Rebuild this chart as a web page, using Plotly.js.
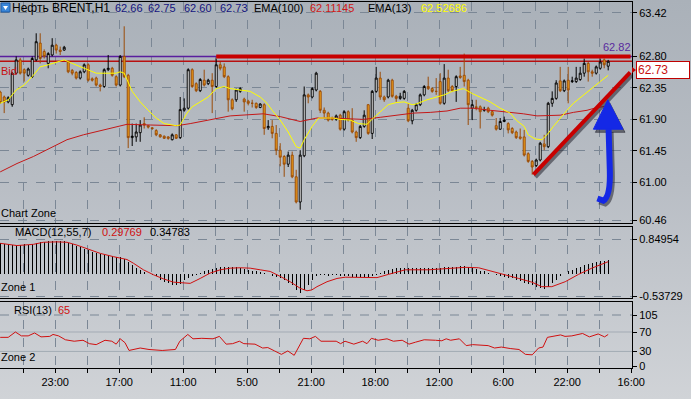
<!DOCTYPE html>
<html><head><meta charset="utf-8">
<script src="https://cdn.plot.ly/plotly-3.0.1.min.js"></script>
<style>
html,body{margin:0;padding:0;background:#c4c8cd;}
#chart{width:691px;height:399px;background:linear-gradient(to bottom,#aab1b9 0%,#b8bdc4 45%,#d0d3d7 100%);}
</style></head><body><div id="chart"></div>
<script>
// ---------- DATA ----------
const timeLabels = ['23:00','17:00','11:00','5:00','21:00','18:00','12:00','6:00','22:00','16:00'];
const priceTicks = [63.42, 62.80, 62.35, 61.90, 61.45, 61.00, 60.46];
const macdTicks = [0.84954, -0.53729];
const rsiTicks = [0, 30, 70, 105];

const open = [
62.29,62.22,62.15,62.11,62.56,62.75,62.61,62.53,62.51,62.75,
62.99,62.87,62.70,62.82,62.96,62.89,62.89,62.72,62.60,62.57,
62.49,62.58,62.68,62.48,62.49,62.39,62.37,62.61,62.63,62.51,
62.39,62.80,62.53,61.64,61.65,61.71,61.84,61.81,61.78,61.74,
61.68,61.66,61.65,61.61,61.68,61.64,62.03,62.06,62.61,62.41,
62.31,62.46,62.41,62.46,62.37,62.68,62.65,62.51,62.18,62.18,
62.30,62.19,62.16,62.13,62.13,62.07,62.11,61.78,61.80,61.70,
61.46,61.37,61.26,61.39,61.08,60.72,61.38,62.25,62.22,62.32,
62.30,62.03,61.99,61.92,61.90,61.96,61.76,62.01,61.89,61.72,
61.64,61.80,62.11,61.70,62.30,62.49,62.22,62.22,62.46,62.23,
62.20,62.20,62.06,61.88,62.03,62.11,62.25,62.37,62.34,62.30,
62.44,62.13,62.49,62.37,62.37,62.52,62.53,62.46,62.06,62.08,
62.08,62.03,62.06,62.01,61.81,61.76,61.87,61.84,61.77,61.72,
61.65,61.65,61.41,61.30,61.24,61.32,61.55,61.51,62.13,62.20,
62.45,62.31,62.46,62.44,62.44,62.47,62.56,62.70,62.58,62.56,
62.63,62.75,62.66];
const high = [
62.31,62.24,62.23,62.58,62.80,62.78,62.63,62.64,62.80,63.13,
63.13,62.90,62.86,63.06,62.98,62.94,62.95,62.74,62.62,62.59,
62.60,62.70,62.70,62.50,62.51,62.41,62.63,62.82,62.65,62.53,
62.82,63.23,62.55,61.84,61.84,61.89,61.93,61.82,61.79,61.76,
61.69,61.67,61.66,61.70,61.69,62.22,62.20,62.63,62.63,62.43,
62.49,62.61,62.48,62.56,62.77,62.72,62.70,62.53,62.20,62.34,
62.36,62.21,62.18,62.18,62.14,62.13,62.13,61.89,61.89,61.82,
61.56,61.39,61.44,61.44,61.18,61.46,62.37,62.27,62.36,62.58,
62.32,62.07,62.01,61.94,61.97,61.98,62.03,62.03,62.06,61.74,
61.82,62.03,62.12,62.32,62.65,62.58,62.24,62.48,62.48,62.25,
62.28,62.32,62.13,62.05,62.13,62.27,62.39,62.51,62.36,62.49,
62.56,62.69,62.61,62.39,62.53,62.65,62.84,62.48,62.18,62.18,
62.10,62.08,62.08,62.03,61.92,61.92,61.94,61.86,61.79,61.74,
61.77,61.75,61.43,61.32,61.34,61.58,61.68,62.15,62.30,62.46,
62.65,62.47,62.65,62.51,62.65,62.65,62.77,62.72,62.61,62.67,
62.77,62.77,62.75];
const low = [
62.12,61.99,62.13,62.08,62.54,62.54,62.44,62.51,62.49,62.73,
62.70,62.77,62.63,62.80,62.84,62.82,62.88,62.56,62.53,62.47,
62.47,62.56,62.44,62.44,62.37,62.30,62.35,62.59,62.51,62.37,
62.37,62.49,61.49,61.52,61.58,61.58,61.77,61.77,61.75,61.66,
61.64,61.62,61.61,61.60,61.62,61.62,62.01,62.04,62.35,62.29,
62.29,62.37,62.39,61.99,62.35,62.60,62.49,62.01,62.03,62.15,
62.28,62.01,62.10,62.07,62.05,62.06,61.68,61.75,61.63,61.39,
61.23,61.08,61.22,61.06,60.70,60.61,61.36,62.13,62.20,62.30,
61.99,61.92,61.87,61.88,61.88,61.74,61.74,61.87,61.70,61.58,
61.62,61.78,61.68,61.62,62.28,62.18,62.15,62.20,62.21,62.15,
62.18,62.18,61.86,61.83,62.01,62.09,62.23,62.32,62.28,62.25,
62.11,62.11,62.29,62.30,62.15,62.48,62.37,61.82,61.89,62.03,
61.77,62.01,61.99,61.94,61.74,61.75,61.86,61.70,61.69,61.62,
61.61,61.37,61.28,61.11,61.22,61.30,61.46,61.49,62.08,62.18,
62.29,62.29,62.13,62.42,62.42,62.45,62.51,62.44,62.51,62.54,
62.61,62.63,62.60];
const close = [
62.14,62.15,62.21,62.56,62.75,62.56,62.56,62.62,62.77,63.01,
62.77,62.80,62.84,62.96,62.89,62.87,62.93,62.58,62.56,62.49,
62.58,62.68,62.46,62.46,62.39,62.37,62.61,62.63,62.53,62.39,
62.80,62.51,61.64,61.66,61.72,61.82,61.82,61.79,61.77,61.68,
61.65,61.63,61.63,61.68,61.63,62.04,62.06,62.61,62.37,62.31,
62.47,62.39,62.46,62.37,62.68,62.63,62.51,62.18,62.05,62.32,
62.34,62.15,62.13,62.13,62.07,62.12,61.77,61.80,61.70,61.46,
61.36,61.26,61.39,61.08,60.72,61.39,62.25,62.22,62.34,62.56,
62.03,61.99,61.89,61.90,61.95,61.76,62.01,61.89,61.72,61.64,
61.80,61.96,61.70,62.30,62.49,62.22,62.18,62.46,62.23,62.20,
62.23,62.30,61.88,62.03,62.11,62.25,62.37,62.34,62.30,62.30,
62.13,62.49,62.31,62.31,62.51,62.50,62.44,62.11,62.11,62.07,
62.01,62.04,62.01,61.96,61.76,61.87,61.89,61.75,61.71,61.64,
61.63,61.39,61.30,61.22,61.32,61.56,61.51,62.13,62.20,62.42,
62.31,62.45,62.32,62.45,62.49,62.56,62.70,62.58,62.56,62.65,
62.72,62.68,62.73];

const ema13X = [0,2,4,6,8,10,12,14,16,18,20,22,24,27,29,30,31,33,35,37,39,41,44,45,46.7,48,50,52,54,56,57.5,60,62.5,65,66.7,68,70,72,74,75,76,78,79.6,81.3,83.3,85,87.5,89.6,91.7,93.3,95,97,99,101,103,104,106.7,109,111,113,115.8,118,120.4,122.5,125,127.5,129,131,132,133.75,135.4,136.7,138.3,140,141.7,143.3,145.8,148.3,150,152];
const ema13Y = [62.13,62.18,62.32,62.39,62.51,62.65,62.68,62.71,62.75,62.70,62.65,62.61,62.56,62.56,62.56,62.58,62.56,62.30,62.15,62.03,61.92,61.84,61.81,61.82,61.99,62.08,62.15,62.22,62.34,62.37,62.34,62.32,62.30,62.22,62.13,62.03,61.89,61.72,61.51,61.49,61.61,61.80,61.92,61.92,61.92,61.90,61.89,61.84,61.83,61.92,62.01,62.11,62.14,62.15,62.11,62.12,62.18,62.22,62.25,62.30,62.34,62.27,62.20,62.15,62.06,61.99,61.89,61.80,61.68,61.62,61.61,61.68,61.80,61.92,62.03,62.13,62.25,62.37,62.44,62.53];
const ema100X = [0,4.2,8.3,12.5,16.7,20.8,25,29.2,31.7,37.5,41.7,44.2,47.5,51.7,57.5,65.8,70,75,79.2,82.5,90.8,95,99.2,103.3,107.5,111.7,115,118.3,122.5,126.7,130.8,134.2,137.5,140,143.3,146.7,149.2,152];
const ema100Y = [61.15,61.27,61.37,61.49,61.61,61.68,61.74,61.80,61.83,61.82,61.81,61.81,61.84,61.89,61.95,61.98,61.94,61.87,61.92,61.92,61.90,61.93,61.96,61.99,62.00,62.02,62.06,62.06,62.03,62.01,61.98,61.95,61.95,61.96,62.00,62.03,62.07,62.09];

const macdHist = [
0.745,0.73,0.72,0.70,0.71,0.70,0.72,0.71,0.73,0.75,
0.77,0.78,0.79,0.80,0.79,0.79,0.79,0.76,0.72,0.69,
0.65,0.61,0.57,0.54,0.51,0.48,0.46,0.45,0.44,0.42,
0.40,0.36,0.29,0.22,0.14,0.09,0.04,0.01,-0.02,-0.06,
-0.15,-0.19,-0.23,-0.26,-0.27,-0.24,-0.15,-0.09,-0.06,-0.03,
0.02,0.06,0.10,0.13,0.15,0.18,0.18,0.18,0.18,0.17,
0.14,0.12,0.10,0.08,0.06,0.04,0.02,-0.01,-0.04,-0.08,
-0.10,-0.15,-0.23,-0.28,-0.38,-0.46,-0.40,-0.28,-0.15,-0.06,
-0.02,-0.03,-0.04,-0.03,-0.03,-0.04,-0.05,-0.06,-0.07,-0.07,
-0.08,-0.07,-0.07,-0.05,-0.02,0.02,0.06,0.10,0.12,0.14,
0.14,0.15,0.14,0.14,0.14,0.14,0.15,0.14,0.14,0.15,
0.15,0.16,0.17,0.17,0.18,0.20,0.20,0.18,0.14,0.12,
0.08,0.06,0.03,0.01,-0.02,-0.05,-0.07,-0.09,-0.10,-0.15,
-0.17,-0.21,-0.25,-0.28,-0.31,-0.35,-0.36,-0.33,-0.23,-0.15,
-0.06,-0.01,0.06,0.10,0.14,0.18,0.22,0.24,0.26,0.30,
0.32,0.32,0.34783];
const macdSigX = [0,4.2,8.3,10.8,14.2,16.7,19.2,21.7,25,28.3,31.7,33.3,35.8,38.3,40.8,43.3,47.5,50,52.5,55,57.5,60,62.5,65,67.5,70,72.5,75,76.7,77.9,79.2,81.7,84.2,86.25,94.2,97.1,101.25,107.1,111.25,116.25,119.6,122.9,126.25,129.6,132.9,135.4,137.9,141.25,144.6,147.9,152];
const macdSigY = [0.745,0.69,0.72,0.77,0.78,0.77,0.70,0.62,0.50,0.42,0.35,0.26,0.10,-0.02,-0.12,-0.20,-0.23,-0.11,0.02,0.10,0.14,0.15,0.14,0.10,0.06,-0.06,-0.19,-0.35,-0.41,-0.39,-0.31,-0.19,-0.11,-0.08,-0.09,-0.01,0.10,0.10,0.12,0.16,0.15,0.07,-0.02,-0.11,-0.20,-0.31,-0.31,-0.19,-0.01,0.14,0.29769];

const rsiX = [0,2,3.8,5.3,7,8.6,10.2,12.4,13.2,14.6,16.3,18.5,20.7,22.3,24,26.2,27.9,29,30,31.2,32.2,35,37.2,40.5,43.8,44.9,46.9,48.2,50.4,53.2,54.8,56.5,58.1,59.8,60.9,63.7,65.6,66.9,68.6,70.3,71.9,73.5,75.8,77.4,78.8,80.2,84,85.1,86.2,88.4,90.6,91.7,92.8,94.5,96.7,98.3,100.5,102.2,103.8,106,108.8,110.4,111.5,112.6,114.8,116.5,118.1,122,123.6,125.3,127.5,129.7,131.3,133,134.6,135.7,136.8,138.5,140.1,141.2,142.9,145.6,147.3,149.5,151.1,152];
const rsiY = [59,59,70,62,62,68,60,61,65,62,54,51,53,46,44,53,51,45,56,48,32,37,34,32,34,51,65,56,57,56,61,45,46,51,46,45,37,38,31,24,31,22,57,56,61,51,51,46,51,45,51,46,57,53,56,51,53,45,49,54,53,52,56,53,56,42,44,42,37,39,36,34,24,23,37,39,59,62,64,61,62,67,60,66,60,65];

const highLevel = 62.80;     // purple / thick red resistance
const bidLevel = 62.73;      // bid line
const trendStart = [133.3, 61.11];
const trendEnd = [157.5, 62.57];
const resistStart = 54;

// ---------- LAYOUT HELPERS ----------
const W = 691, H = 399, PR = 632;
const px = x => x / PR;
const py = y => 1 - y / H;
const FONT = 'Liberation Sans, Arial, sans-serif';
const idx = open.map((_, i) => i);
const gridVals = [], gridText = [];
for (let i = 0; i < 20; i++) { gridVals.push(5.75 + 8 * i); gridText.push(i % 2 === 1 ? timeLabels[(i - 1) / 2] : ''); }
const XR = [-0.05, 157.95];
const GRID = '#7b8795';

const traces = [
  {type:'candlestick', x:idx, open, high, low, close, xaxis:'x', yaxis:'y',
   increasing:{line:{color:'#000000', width:1}, fillcolor:'#ffffff'},
   decreasing:{line:{color:'#9a4c08', width:1}, fillcolor:'#f2a51c'},
   whiskerwidth:0, hoverinfo:'skip', showlegend:false},
  {type:'scatter', mode:'lines', x:ema100X, y:ema100Y, xaxis:'x', yaxis:'y', line:{color:'#c41818', width:1}, hoverinfo:'skip', showlegend:false},
  {type:'scatter', mode:'lines', x:ema13X, y:ema13Y, xaxis:'x', yaxis:'y', line:{color:'#ffff00', width:1}, hoverinfo:'skip', showlegend:false},
  {type:'bar', x:idx, y:macdHist, xaxis:'x2', yaxis:'y2', width:0.3, marker:{color:'#000000', line:{width:0}}, hoverinfo:'skip', showlegend:false},
  {type:'scatter', mode:'lines', x:macdSigX, y:macdSigY, xaxis:'x2', yaxis:'y2', line:{color:'#d01010', width:1}, hoverinfo:'skip', showlegend:false},
  {type:'scatter', mode:'lines', x:rsiX, y:rsiY, xaxis:'x3', yaxis:'y3', line:{color:'#d01010', width:1}, hoverinfo:'skip', showlegend:false}
];

function xax(anchor, labels) {
  return {domain:[0,1], range:XR, anchor, tickmode:'array', tickvals:gridVals, ticktext:gridText,
    showticklabels:labels, ticks: labels ? 'outside' : '', ticklen:4, tickcolor:'#000',
    tickfont:{family:FONT, size:11, color:'#000'},
    showgrid:true, gridcolor:GRID, griddash:'dash', gridwidth:1,
    showline:true, linecolor:'#000', linewidth:1, mirror:true, zeroline:false, fixedrange:true,
    rangeslider:{visible:false}};
}
function yax(domain, range, vals, text, grid) {
  return {domain, range, side:'right', tickmode:'array', tickvals:vals, ticktext:text,
    ticks:'outside', ticklen:4, tickcolor:'#000', tickfont:{family:FONT, size:11, color:'#000'},
    showgrid:grid, gridcolor:GRID, griddash:'dash', gridwidth:1,
    showline:true, linecolor:'#000', linewidth:1, mirror:true, zeroline:false, fixedrange:true};
}

const shadow = 'rgba(35,35,45,0.55)';
const shapes = [
  {type:'line', xref:'x', yref:'y', x0:XR[0], x1:XR[1], y0:highLevel, y1:highLevel, line:{color:'#5a1e9e', width:1.5}, layer:'between'},
  {type:'line', xref:'x', yref:'y', x0:XR[0], x1:XR[1], y0:bidLevel, y1:bidLevel, line:{color:'#b81010', width:1.5}, layer:'between'},
  {type:'line', xref:'x', yref:'y', x0:resistStart, x1:157.6, y0:highLevel, y1:highLevel, line:{color:'#c80000', width:4}},
  // trend line shadow + line
  {type:'line', xref:'x', yref:'y', x0:trendStart[0]+0.5, x1:trendEnd[0]+0.5, y0:trendStart[1]-0.035, y1:trendEnd[1]-0.035, line:{color:shadow, width:4}},
  {type:'line', xref:'x', yref:'y', x0:trendStart[0], x1:trendEnd[0], y0:trendStart[1], y1:trendEnd[1], line:{color:'#c80000', width:4}},
  // blue arrow shadow
  {type:'path', xref:'x', yref:'y', path:'M 152.6,61.72 L 152.9,61.14 Q 153.1,60.76 151.3,60.70 L 149.8,60.73', line:{color:shadow, width:6}},
  {type:'path', xref:'x', yref:'y', path:'M 152.4,62.135 L 156.2,61.715 L 148.8,61.715 Z', fillcolor:shadow, line:{color:shadow, width:1}},
  // blue arrow
  {type:'path', xref:'x', yref:'y', path:'M 152.1,61.76 L 152.4,61.18 Q 152.6,60.80 150.8,60.74 L 149.3,60.77', line:{color:'#1428e6', width:6}},
  {type:'path', xref:'x', yref:'y', path:'M 151.9,62.18 L 155.7,61.76 L 148.3,61.76 Z', fillcolor:'#1428e6', line:{color:'#1428e6', width:1}},
  // RSI level lines
  {type:'line', xref:'x3', yref:'y3', x0:XR[0], x1:XR[1], y0:105, y1:105, line:{color:GRID, width:1, dash:'dash'}, layer:'below'},
  {type:'line', xref:'x3', yref:'y3', x0:XR[0], x1:XR[1], y0:70, y1:70, line:{color:'#a3abb4', width:1}, layer:'below'},
  {type:'line', xref:'x3', yref:'y3', x0:XR[0], x1:XR[1], y0:30, y1:30, line:{color:'#a3abb4', width:1}, layer:'below'},
  // header icon
  {type:'rect', xref:'paper', yref:'paper', x0:px(1), x1:px(10), y0:py(12), y1:py(3), fillcolor:'#3a86d8', line:{color:'#1c5aa6', width:1}},
  {type:'path', xref:'paper', yref:'paper', path:`M ${px(3)},${py(6)} L ${px(8)},${py(6)} L ${px(5.5)},${py(10)} Z`, fillcolor:'#ffffff', line:{width:0}},
  // last price marker
  {type:'path', xref:'paper', yref:'paper', path:`M ${px(632)},${py(67)} L ${px(636)},${py(70)} L ${px(632)},${py(73)} Z`, fillcolor:'#c00000', line:{width:0}}
];

function txt(x, y, text, color, size) {
  return {xref:'paper', yref:'paper', x:px(x), y:py(y), text, showarrow:false, xanchor:'left', yanchor:'middle',
    font:{family:FONT, size:size||11, color:color||'#000'}, borderpad:0};
}
const annotations = [
  txt(11, 8, 'Нефть BRENT,H1', '#000', 12),
  txt(114, 8, open[open.length-1].toFixed(2), '#14147e'),
  txt(147, 8, high[high.length-1].toFixed(2), '#14147e'),
  txt(183, 8, low[low.length-1].toFixed(2), '#14147e'),
  txt(219, 8, close[close.length-1].toFixed(2), '#14147e'),
  txt(253, 8, 'EMA(100)', '#000'),
  txt(309, 8, '62.11145', '#d01818'),
  txt(367, 8, 'EMA(13)', '#000'),
  txt(420, 8, '62.52686', '#ffff00'),
  txt(0, 71, 'Bid', '#c81010'),
  txt(602, 47, '62.82', '#5a2a9e'),
  txt(0, 213, 'Chart Zone', '#000'),
  txt(14, 232, 'MACD(12,55,7)', '#000'),
  txt(101, 232, '0.29769', '#d01010'),
  txt(149, 232, '0.34783', '#000'),
  txt(0, 287, 'Zone 1', '#000'),
  txt(13, 310, 'RSI(13)', '#000'),
  txt(57, 310, '65', '#d01010'),
  txt(0, 357, 'Zone 2', '#000'),
  {xref:'paper', yref:'paper', x:px(636), y:py(70.5), text:close[close.length-1].toFixed(2), showarrow:false,
   xanchor:'left', yanchor:'middle', align:'left', width:50, height:14, bgcolor:'#ffffff', bordercolor:'#c00000', borderwidth:1, borderpad:1,
   font:{family:FONT, size:12, color:'#c81010'}}
];

const layout = {
  width:W, height:H, margin:{l:0, r:W-PR, t:0, b:0},
  paper_bgcolor:'rgba(0,0,0,0)', plot_bgcolor:'rgba(0,0,0,0)',
  showlegend:false, bargap:0, hovermode:false, dragmode:false,
  xaxis: xax('y', false),
  xaxis2: Object.assign(xax('y2', false), {matches:'x'}),
  xaxis3: Object.assign(xax('y3', true), {matches:'x'}),
  yaxis: yax([py(223), py(2)], [60.42, 63.577], priceTicks, priceTicks.map(v=>v.toFixed(2)), true),
  yaxis2: yax([py(297.5), py(227)], [-0.5738, 1.1415], macdTicks, macdTicks.map(v=>v.toFixed(5)), true),
  yaxis3: yax([py(368), py(302)], [-4.12, 131.8], rsiTicks, rsiTicks.map(String), false),
  shapes, annotations
};
Plotly.newPlot('chart', traces, layout, {displayModeBar:false, staticPlot:true});
</script></body></html>
